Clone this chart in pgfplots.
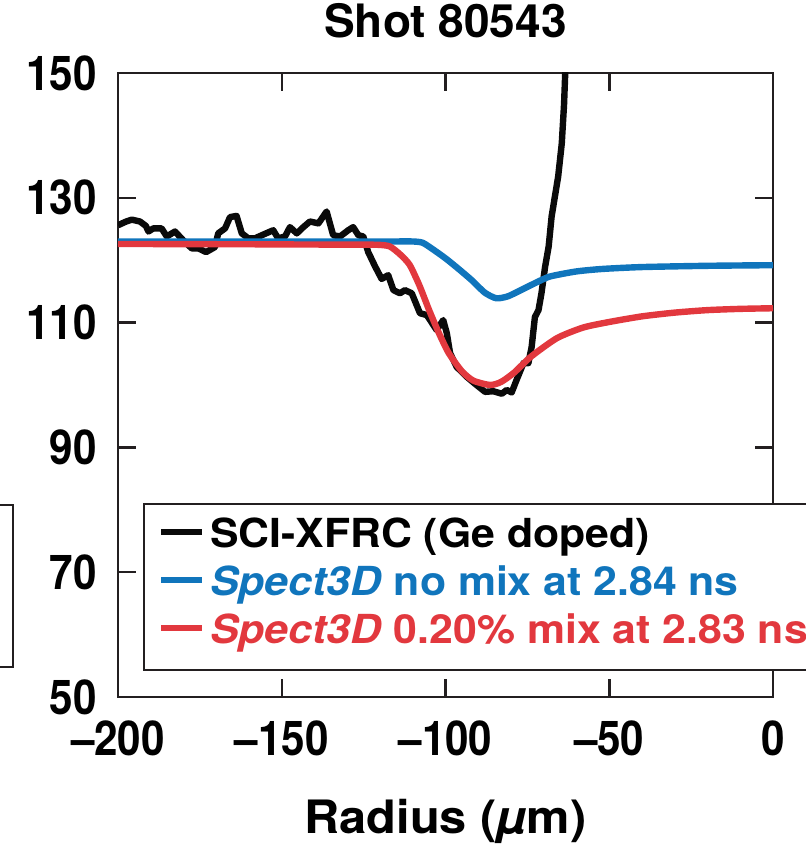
\documentclass[border=0pt]{standalone}
\usepackage{fontspec}
\usepackage{pgfplots}
\pgfplotsset{compat=1.18}
\setmainfont{TeX Gyre Heros}
\newfontfamily\tickfont{TeX Gyre Heros}[FakeStretch=0.88]
\newfontfamily\titlefont{TeX Gyre Heros}
\newfontfamily\legfont{TeX Gyre Heros}[FakeStretch=1.07]
\newfontfamily\labfont{TeX Gyre Heros}[FakeStretch=1.06]
\definecolor{axcol}{RGB}{35,31,32}
\definecolor{cblue}{RGB}{16,117,188}
\definecolor{cred}{RGB}{226,56,62}
\definecolor{cblack}{RGB}{10,10,10}
\begin{document}
\begin{tikzpicture}
\begin{axis}[
  scale only axis, width=327.5pt, height=312pt,
  xmin=-200, xmax=0, ymin=50, ymax=150,
  xtick={-200,-150,-100,-50,0},
  xticklabels={–200,–150,–100,–50,0},
  ytick={50,70,90,110,130,150},
  yticklabels={50,70,90,110,130,150},
  tick align=inside, major tick length=9pt,
  axis line style={line width=1.25pt, color=axcol},
  every tick/.style={line width=1.25pt, color=axcol},
  tick label style={font=\tickfont\bfseries\fontsize{24pt}{24pt}\selectfont, inner sep=0pt},
  xticklabel style={anchor=base, yshift=-29pt},
  yticklabel style={anchor=east, xshift=-10.5pt},
  title={Shot 80543},
  title style={font=\titlefont\bfseries\fontsize{23pt}{23pt}\selectfont, at={(0.5,1)}, anchor=base, yshift=11.5pt, inner sep=0pt},
  xlabel={Radius (\textit{µ}m)},
  xlabel style={font=\labfont\bfseries\fontsize{23pt}{23pt}\selectfont, at={(0.5,0)}, anchor=base, yshift=-68pt, inner sep=0pt},
  legend style={at={(0.038,0.311)}, anchor=north west, draw=axcol, line width=1.25pt,
    font=\legfont\bfseries\fontsize{20pt}{20pt}\selectfont,
    inner xsep=7pt, inner ysep=5.5pt, row sep=0pt, column sep=2.5pt,
    nodes={inner sep=0pt, text height=16pt, text depth=8pt, anchor=west}},
  legend cell align=left,
  legend image code/.code={\draw[#1, line width=3pt] (0pt,3.8pt) -- (20.5pt,3.8pt);},
]
\addplot[cblack, line width=3.2pt, line join=round] coordinates {
(-200,125.6) (-197.5,126.2) (-195.8,126.5) (-193.3,126.2) (-191.5,125.5) (-190.7,124.6)
(-189.2,125.1) (-186.7,125.1) (-185.1,123.8) (-182.6,124.6) (-180.1,123.2) (-177.5,121.9)
(-175.5,121.9) (-173.1,121.3) (-170.4,122.1) (-169.4,124.3) (-167.3,125.1) (-165.8,126.9)
(-163.8,127.1) (-162.2,124.3) (-160.2,123.5) (-158.2,123.5) (-156.1,124.0) (-152.6,124.8)
(-151.1,123.5) (-149.0,123.8) (-147.5,125.3) (-145.4,124.3) (-143.4,125.3) (-141.4,126.2)
(-138.8,125.9) (-136.3,127.8) (-134.3,124.0) (-132.2,123.8) (-129.7,124.8) (-128.2,125.3)
(-126.6,124.0) (-125.1,123.8) (-123.6,121.3) (-121.5,119.0) (-119.5,117.0) (-117.5,117.6)
(-115.9,115.2) (-113.9,114.7) (-112.4,115.2) (-110.3,114.7) (-107.8,111.5) (-105.7,111.2)
(-102.7,108.8) (-100.7,110.4) (-99.6,108.3) (-98.6,105.1) (-96.6,102.9) (-93.5,101.3)
(-91.0,100.2) (-87.9,98.9) (-85.4,99.0) (-82.8,98.6) (-81.3,99.2) (-79.8,98.8)
(-78.3,100.8) (-76.2,103.5) (-74.7,103.5) (-73.7,106.1) (-72.7,110.9) (-71.6,112.0)
(-70.7,114.7) (-69.6,118.9) (-68.5,122.2) (-67.6,127.0) (-65.6,133.4) (-64.5,138.7)
(-63.8,145) (-63.3,152)
};
\addlegendentry{SCI-XFRC (Ge doped)}
\addplot[cblue, line width=3.2pt, smooth, tension=0.4] coordinates {
(-200,123.0) (-160,123.0) (-130,123.0) (-116,123.0) (-110,123.0) (-107,122.8) (-104,121.8)
(-100,120.3) (-96,118.6) (-92,116.8) (-88,114.8) (-84.5,113.9) (-81,114.2) (-77,115.2)
(-72,116.5) (-68,117.4) (-60,118.2) (-52,118.6) (-40,118.9) (-20,119.1) (0,119.2)
};
\addlegendentry{\textcolor{cblue}{\textit{Spect3D} no mix at 2.84 ns}}
\addplot[cred, line width=3.2pt, smooth, tension=0.4] coordinates {
(-200,122.6) (-160,122.55) (-135,122.5) (-125,122.5) (-120,122.45) (-117,122.2) (-114,121.0)
(-111,119.3) (-108,116) (-105,112) (-102,108.3) (-99,105.1) (-95,102.2) (-91.5,100.7)
(-86.4,100.0) (-83,100.5) (-79,102) (-74,104.5) (-66,107.5) (-58,109.2) (-50,110.1)
(-40,111) (-30,111.6) (-20,112) (-10,112.2) (0,112.3)
};
\addlegendentry{\textcolor{cred}{\textit{Spect3D} 0.20\% mix at 2.83 ns}}
\end{axis}
\draw[axcol, line width=1.25pt] (-60pt,96pt) -- (-52.5pt,96pt) -- (-52.5pt,15pt) -- (-60pt,15pt);
\pgfresetboundingbox
\useasboundingbox (-59pt,-74pt) rectangle (344pt,348.5pt);
\end{tikzpicture}
\end{document}
